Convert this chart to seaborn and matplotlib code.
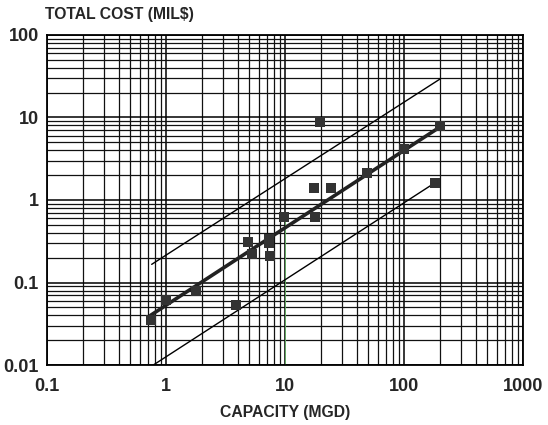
import matplotlib.pyplot as plt
import pandas as pd
import seaborn as sns
from matplotlib.ticker import LogLocator, FixedLocator, NullFormatter

# Plant data
capacity = [0.74, 1.0, 1.78, 3.9, 4.9, 5.25, 7.3, 7.3, 7.4, 9.8, 17.5, 24.4, 17.8, 19.7, 48.7, 98.8, 201, 183]
cost = [0.035, 0.062, 0.078, 0.054, 0.31, 0.22, 0.30, 0.34, 0.21, 0.62, 1.39, 1.41, 0.62, 8.7, 2.13, 4.1, 7.8, 1.61]

# Fitted line and the two bounding lines (end points)
fit_x = [0.74, 201]
fit_y = [0.040, 7.7]
upper_x = [0.757, 201]
upper_y = [0.166, 29.3]
lower_x = [0.78, 188]
lower_y = [0.01, 1.67]

x_ticks = [0.1, 1, 10, 100, 1000]
x_labels = ['0.1', '1', '10', '100', '1000']
y_ticks = [0.01, 0.1, 1, 10, 100]
y_labels = ['0.01', '0.1', '1', '10', '100']

df = pd.DataFrame({'capacity': capacity, 'cost': cost})

sns.set_theme(style='white')
plt.rcParams['font.family'] = ['Liberation Sans', 'DejaVu Sans']

fig = plt.figure(figsize=(5.48, 4.25), dpi=100)
ax = fig.add_axes([0.0858, 0.141, 0.869, 0.777])
ax.set_xscale('log')
ax.set_yscale('log')
ax.set_xlim(0.1, 1000)
ax.set_ylim(0.01, 100)

# log paper grid
ax.xaxis.set_major_locator(FixedLocator(x_ticks))
ax.yaxis.set_major_locator(FixedLocator(y_ticks))
ax.xaxis.set_minor_locator(LogLocator(base=10, subs=range(2, 10), numticks=20))
ax.yaxis.set_minor_locator(LogLocator(base=10, subs=range(2, 10), numticks=20))
ax.xaxis.set_minor_formatter(NullFormatter())
ax.yaxis.set_minor_formatter(NullFormatter())
ax.grid(which='major', color='black', linewidth=1.1)
ax.grid(which='minor', color='#111111', linewidth=0.9)
ax.set_axisbelow(True)
for s in ax.spines.values():
    s.set_color('black')
    s.set_linewidth(1.3)

# stray green pen line on the scan
ax.plot([10, 10], [0.01, 0.6], color='#6cbf6c', linewidth=0.6, zorder=2)

sns.lineplot(x=upper_x, y=upper_y, color='black', linewidth=1.0, ax=ax, zorder=3)
sns.lineplot(x=lower_x, y=lower_y, color='black', linewidth=1.0, ax=ax, zorder=3)
sns.lineplot(x=fit_x, y=fit_y, color='#222222', linewidth=2.6, ax=ax, zorder=3)
sns.scatterplot(data=df, x='capacity', y='cost', marker='s', s=45, color='#333333',
                edgecolor='#333333', linewidth=0, ax=ax, zorder=4)

ax.set_xticklabels(x_labels, fontsize=13, fontweight='bold')
ax.set_yticklabels(y_labels, fontsize=13, fontweight='bold')
ax.tick_params(axis='x', which='both', length=0, pad=9)
ax.tick_params(axis='y', which='both', length=0, pad=6)
ax.set_xlabel('')
ax.set_ylabel('')
fig.text(285 / 548, 1 - 413 / 425, 'CAPACITY (MGD)', fontsize=11.3, fontweight='bold',
         ha='center', va='center')
fig.text(45 / 548, 1 - 15 / 425, 'TOTAL COST (MIL$)', fontsize=11.3, fontweight='bold',
         va='center')

fig.savefig('out.png', dpi=100)
